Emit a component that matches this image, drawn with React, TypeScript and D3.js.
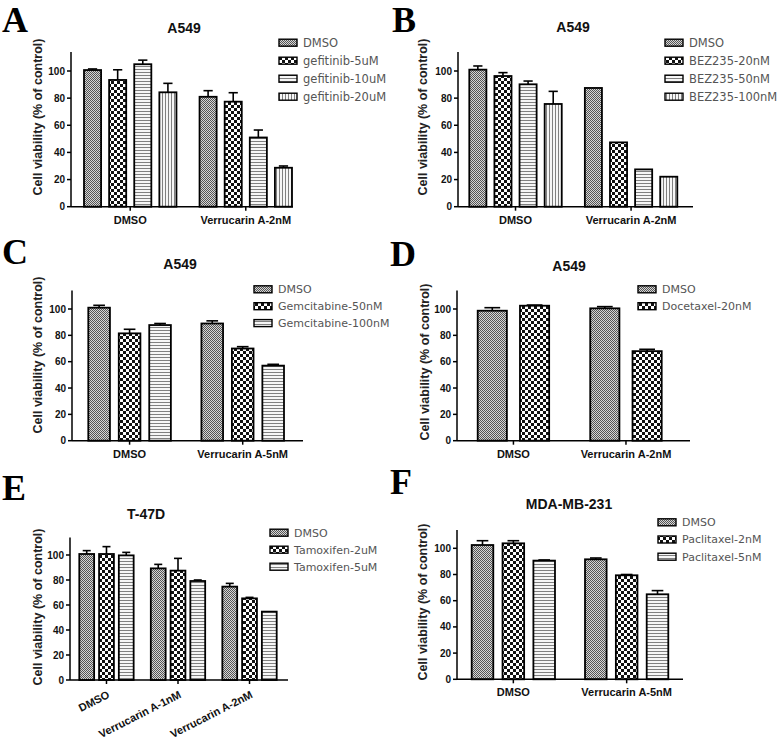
import React from "react";
import * as d3 from "d3";

const yTicks = [0, 20, 40, 60, 80, 100];
const yLabelText = "Cell viability (% of control)";
const panelLetters = ["A", "B", "C", "D", "E", "F"];
const panelTitles = ["A549", "A549", "A549", "A549", "T-47D", "MDA-MB-231"];

const groupsA = ["DMSO", "Verrucarin A-2nM"];
const seriesA = ["DMSO", "gefitinib-5uM", "gefitinib-10uM", "gefitinib-20uM"];
const valuesA = [[100.7, 93.4, 105.0, 84.3], [81.0, 77.4, 51.0, 28.7]];
const errorsA = [[0.8, 7.5, 3.0, 6.6], [4.5, 6.6, 5.5, 1.3]];

const groupsB = ["DMSO", "Verrucarin A-2nM"];
const seriesB = ["DMSO", "BEZ235-20nM", "BEZ235-50nM", "BEZ235-100nM"];
const valuesB = [[101.0, 96.3, 90.2, 75.7], [87.5, 47.4, 27.5, 22.1]];
const errorsB = [[2.7, 2.5, 2.4, 9.3], [0, 0, 0, 0]];

const groupsC = ["DMSO", "Verrucarin A-5nM"];
const seriesC = ["DMSO", "Gemcitabine-50nM", "Gemcitabine-100nM"];
const valuesC = [[101.0, 81.5, 87.8], [89.0, 70.0, 57.0]];
const errorsC = [[1.8, 3.1, 1.2], [2.0, 1.4, 1.0]];

const groupsD = ["DMSO", "Verrucarin A-2nM"];
const seriesD = ["DMSO", "Docetaxel-20nM"];
const valuesD = [[98.7, 102.5], [100.5, 68.0]];
const errorsD = [[2.3, 0.5], [1.3, 1.4]];

const groupsE = ["DMSO", "Verrucarin A-1nM", "Verrucarin A-2nM"];
const seriesE = ["DMSO", "Tamoxifen-2uM", "Tamoxifen-5uM"];
const valuesE = [[100.8, 100.8, 99.7], [89.3, 87.5, 79.2], [74.7, 65.3, 54.7]];
const errorsE = [[2.7, 5.9, 2.4], [3.2, 9.8, 0.8], [2.6, 0.8, 0]];

const groupsF = ["DMSO", "Verrucarin A-5nM"];
const seriesF = ["DMSO", "Paclitaxel-2nM", "Paclitaxel-5nM"];
const valuesF = [[102.5, 103.8, 90.6], [91.6, 79.4, 64.9]];
const errorsF = [[3.3, 2.0, 0.5], [1.0, 0.6, 2.8]];

const patternIds = ["p-dmso", "p-check", "p-h", "p-v"];

const SANS = "'Liberation Sans', Arial, sans-serif";
const LEG = "'DejaVu Sans', Verdana, sans-serif";

type Layout = {
  letter: [number, number];
  title: [number, number];
  axisX: number;
  base: number;
  y100: number;
  axisEnd: number;
  band: [number, number];
  gp: number;
  bp: number;
  legend: [number, number, number];
  legFont: number;
  ylab: [number, number];
  rotate: boolean;
};

const layouts: Layout[] = [
  { letter: [2, 32], title: [184, 33], axisX: 71, base: 206.7, y100: 71, axisEnd: 293, band: [84, 292], gp: 0.2, bp: 0.32, legend: [279, 42.7, 18], legFont: 11.5, ylab: [42, 117], rotate: false },
  { letter: [392, 32], title: [573, 32], axisX: 458, base: 206.7, y100: 71, axisEnd: 693, band: [469.3, 677.3], gp: 0.2, bp: 0.32, legend: [665, 42.7, 18], legFont: 11.5, ylab: [427, 117], rotate: false },
  { letter: [2, 264], title: [180, 269], axisX: 72, base: 440.7, y100: 309, axisEnd: 303, band: [88.3, 284], gp: 0.27, bp: 0.29, legend: [254, 289.3, 16.9], legFont: 11, ylab: [42, 355], rotate: false },
  { letter: [390, 266], title: [569, 271], axisX: 457, base: 440.7, y100: 309, axisEnd: 690, band: [477.7, 661.7], gp: 0.365, bp: 0.31, legend: [638, 289.3, 16.9], legFont: 11, ylab: [429, 362], rotate: false },
  { letter: [2, 500], title: [146, 519], axisX: 70, base: 680, y100: 555, axisEnd: 288, band: [79.3, 276.7], gp: 0.24, bp: 0.25, legend: [270, 532.7, 17], legFont: 11, ylab: [42, 607], rotate: true },
  { letter: [390, 494], title: [569, 509], axisX: 457, base: 679.3, y100: 548.3, axisEnd: 683, band: [471.7, 668.3], gp: 0.265, bp: 0.3, legend: [658, 522.3, 17.2], legFont: 11, ylab: [427, 602], rotate: false },
];

const dataSets = [
  { groups: groupsA, series: seriesA, values: valuesA, errors: errorsA },
  { groups: groupsB, series: seriesB, values: valuesB, errors: errorsB },
  { groups: groupsC, series: seriesC, values: valuesC, errors: errorsC },
  { groups: groupsD, series: seriesD, values: valuesD, errors: errorsD },
  { groups: groupsE, series: seriesE, values: valuesE, errors: errorsE },
  { groups: groupsF, series: seriesF, values: valuesF, errors: errorsF },
];

function Panel({ idx }: { idx: number }) {
  const L = layouts[idx];
  const D = dataSets[idx];
  const y = d3.scaleLinear().domain([0, 100]).range([L.base, L.y100]);
  const yTop = y(114);
  const x0 = d3.scaleBand<string>().domain(D.groups).range(L.band).paddingInner(L.gp).paddingOuter(0);
  const x1 = d3.scaleBand<string>().domain(D.series).range([0, x0.bandwidth()]).paddingInner(L.bp).paddingOuter(0);
  const bw = x1.bandwidth();
  return (
    <g>
      <text x={L.letter[0]} y={L.letter[1]} fontFamily="'Liberation Serif', 'Times New Roman', serif" fontWeight="bold" fontSize={36} fill="#000">
        {panelLetters[idx]}
      </text>
      <text x={L.title[0]} y={L.title[1]} textAnchor="middle" fontFamily={SANS} fontWeight="bold" fontSize={14} fill="#111">
        {panelTitles[idx]}
      </text>
      <text
        x={L.ylab[0]}
        y={L.ylab[1]}
        transform={`rotate(-90, ${L.ylab[0]}, ${L.ylab[1]})`}
        textAnchor="middle"
        fontFamily={SANS}
        fontWeight="bold"
        fontSize={12.5}
        fill="#222"
      >
        {yLabelText}
      </text>
      {D.groups.map((g, gi) =>
        D.series.map((s, si) => {
          const v = D.values[gi][si];
          const e = D.errors[gi][si];
          const bx = (x0(g) as number) + (x1(s) as number);
          const cx = bx + bw / 2;
          return (
            <g key={g + s}>
              {e > 0 && (
                <g stroke="#000" strokeWidth={1.6}>
                  <line x1={cx} x2={cx} y1={y(v)} y2={y(v + e)} />
                  <line x1={cx - bw * 0.27} x2={cx + bw * 0.27} y1={y(v + e)} y2={y(v + e)} />
                </g>
              )}
              <rect x={bx} y={y(v)} width={bw} height={L.base - y(v)} fill={`url(#${patternIds[si]})`} stroke="#000" strokeWidth={1.8} />
            </g>
          );
        })
      )}
      <line x1={L.axisX} x2={L.axisX} y1={yTop} y2={L.base} stroke="#000" strokeWidth={1.5} />
      {yTicks.map((t) => (
        <g key={t}>
          <line x1={L.axisX - 4} x2={L.axisX} y1={y(t)} y2={y(t)} stroke="#000" strokeWidth={1.5} />
          <text x={L.axisX - 6} y={y(t)} dy="0.35em" textAnchor="end" fontFamily={SANS} fontWeight="bold" fontSize={10} fill="#111">
            {t}
          </text>
        </g>
      ))}
      <line x1={L.axisX} x2={L.axisEnd} y1={L.base} y2={L.base} stroke="#000" strokeWidth={1.5} />
      {D.groups.map((g) => {
        const cx = (x0(g) as number) + x0.bandwidth() / 2;
        return (
          <g key={g}>
            <line x1={cx} x2={cx} y1={L.base} y2={L.base + 4} stroke="#000" strokeWidth={1.5} />
            {L.rotate ? (
              <text
                x={cx + 4}
                y={L.base + 17}
                transform={`rotate(-27, ${cx + 4}, ${L.base + 17})`}
                textAnchor="end"
                fontFamily={SANS}
                fontWeight="bold"
                fontSize={11}
                fill="#111"
              >
                {g}
              </text>
            ) : (
              <text x={cx} y={L.base + 17} textAnchor="middle" fontFamily={SANS} fontWeight="bold" fontSize={11} fill="#111">
                {g}
              </text>
            )}
          </g>
        );
      })}
      {D.series.map((s, si) => {
        const cy = L.legend[1] + si * L.legend[2];
        return (
          <g key={s}>
            <rect x={L.legend[0]} y={cy - 3.5} width={18} height={7} fill={`url(#${patternIds[si]})`} stroke="#000" strokeWidth={1.4} />
            <text x={L.legend[0] + 24} y={cy} dy="0.36em" fontFamily={LEG} fontSize={L.legFont} fill="#555">
              {s}
            </text>
          </g>
        );
      })}
    </g>
  );
}

export default function App() {
  return (
    <svg width={780} height={741} style={{ position: "absolute", left: 0, top: 0, background: "#fff" }}>
      <defs>
        <pattern id="p-dmso" width="2" height="2" patternUnits="userSpaceOnUse">
          <rect width="2" height="2" fill="#d6d6d6" />
          <rect width="1" height="1" fill="#555" />
          <rect x="1" y="1" width="1" height="1" fill="#555" />
        </pattern>
        <pattern id="p-check" width="6" height="6" patternUnits="userSpaceOnUse">
          <rect width="6" height="6" fill="#fff" />
          <rect width="3" height="3" fill="#111" />
          <rect x="3" y="3" width="3" height="3" fill="#111" />
        </pattern>
        <pattern id="p-h" width="3" height="3" patternUnits="userSpaceOnUse">
          <rect width="3" height="3" fill="#f6f6f6" />
          <rect width="3" height="1" fill="#808080" />
        </pattern>
        <pattern id="p-v" width="3" height="3" patternUnits="userSpaceOnUse">
          <rect width="3" height="3" fill="#f6f6f6" />
          <rect width="1" height="3" fill="#808080" />
        </pattern>
      </defs>
      <rect width={780} height={741} fill="#fff" />
      {layouts.map((_, i) => (
        <Panel key={i} idx={i} />
      ))}
    </svg>
  );
}
